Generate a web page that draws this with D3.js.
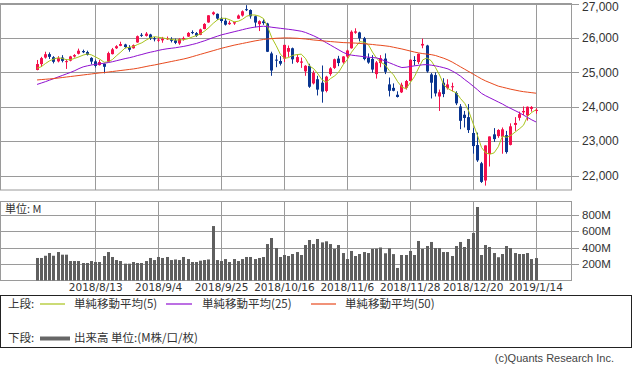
<!DOCTYPE html>
<html><head><meta charset="utf-8">
<script src="https://cdn.jsdelivr.net/npm/d3@7"></script>
<style>body{margin:0;background:#fff}svg{display:block}</style>
</head><body><svg id="c" width="633" height="372"></svg>
<script>
const dates = ["2018/7/24","2018/7/25","2018/7/26","2018/7/27","2018/7/30","2018/7/31",
"2018/8/1","2018/8/2","2018/8/3","2018/8/6","2018/8/7","2018/8/8","2018/8/9","2018/8/10","2018/8/13","2018/8/14","2018/8/15","2018/8/16","2018/8/17","2018/8/20","2018/8/21","2018/8/22","2018/8/23","2018/8/24","2018/8/27","2018/8/28","2018/8/29","2018/8/30","2018/8/31",
"2018/9/4","2018/9/5","2018/9/6","2018/9/7","2018/9/10","2018/9/11","2018/9/12","2018/9/13","2018/9/14","2018/9/17","2018/9/18","2018/9/19","2018/9/20","2018/9/21","2018/9/24","2018/9/25","2018/9/26","2018/9/27","2018/9/28",
"2018/10/1","2018/10/2","2018/10/3","2018/10/4","2018/10/5","2018/10/8","2018/10/9","2018/10/10","2018/10/11","2018/10/12","2018/10/15","2018/10/16","2018/10/17","2018/10/18","2018/10/19","2018/10/22","2018/10/23","2018/10/24","2018/10/25","2018/10/26","2018/10/29","2018/10/30","2018/10/31",
"2018/11/1","2018/11/2","2018/11/5","2018/11/6","2018/11/7","2018/11/8","2018/11/9","2018/11/12","2018/11/13","2018/11/14","2018/11/15","2018/11/16","2018/11/19","2018/11/20","2018/11/21","2018/11/23","2018/11/26","2018/11/27","2018/11/28","2018/11/29","2018/11/30",
"2018/12/3","2018/12/4","2018/12/6","2018/12/7","2018/12/10","2018/12/11","2018/12/12","2018/12/13","2018/12/14","2018/12/17","2018/12/18","2018/12/19","2018/12/20","2018/12/21","2018/12/24","2018/12/26","2018/12/27","2018/12/28","2018/12/31",
"2019/1/2","2019/1/3","2019/1/4","2019/1/7","2019/1/8","2019/1/9","2019/1/10","2019/1/11","2019/1/14"];

const opens = [25070,25240,25430,25530,25440,25320,25430,25300,25340,25460,25540,25620,25590,25420,25320,25210,25250,25310,25530,25700,25770,25810,25730,25700,25870,26090,26060,26100,25990,
25920,25930,25960,25970,25930,25840,25960,26040,26170,26140,26090,26260,26450,26690,26700,26560,26500,26400,26420,
26560,26650,26835,26810,26630,26400,26480,26420,25550,25370,25330,25400,25600,25700,25300,25280,25030,25190,24680,24800,24700,24460,24950,
25130,25400,25290,25460,25700,26150,26160,25990,25420,25390,24950,25270,25400,24650,24550,24350,24420,24550,24750,25360,25300,
25780,25780,24940,24920,24300,24700,24540,24570,24400,24010,23770,23700,23240,22890,22360,21860,22630,23200,23150,
23130,23177,22894,23474,23680,23840,23750,23940,23880];
const highs = [25360,25450,25600,25580,25470,25470,25500,25380,25480,25530,25690,25660,25630,25440,25370,25360,25260,25600,25710,25790,25890,25830,25790,25810,26070,26140,26170,26120,26030,
26010,26030,26040,26020,25980,25990,26040,26170,26220,26170,26270,26430,26660,26770,26710,26600,26580,26500,26470,
26680,26800,26951,26830,26650,26510,26540,26440,25600,25500,25470,25800,25780,25720,25520,25430,25210,25250,25050,24900,25200,24900,25150,
25400,25480,25470,25660,26220,26280,26180,26030,25550,25500,25330,25500,25550,24850,24680,24450,24700,24780,25380,25470,25550,
25980,25800,24980,25000,24500,24830,24800,24700,24450,24080,23880,24080,23380,23250,22400,22880,23140,23381,23350,
23400,23300,23520,23700,23860,24010,24010,24020,23960];
const lows = [25060,25160,25400,25390,25260,25290,25290,25100,25320,25430,25520,25560,25490,25230,25140,25200,24970,25300,25520,25680,25760,25700,25600,25690,25860,26030,26040,25940,25900,
25880,25860,25940,25870,25820,25800,25920,26030,26110,26030,26080,26250,26440,26660,26520,26440,26360,26380,26380,
26550,26620,26780,26560,26310,26200,26380,25590,24900,25150,25200,25300,25450,25250,25270,25130,24900,24550,24650,24330,24120,24420,24900,
25100,25180,25250,25420,25690,26120,25900,25350,25250,24990,24820,25150,24950,24300,24450,24270,24400,24500,24740,25200,25240,
25700,24990,24242,24300,23880,24280,24500,24450,24050,23350,23400,23240,22640,22400,21790,21712,22267,22980,23100,
22638,22640,22880,23300,23600,23760,23600,23860,23800];
const closes = [25242,25414,25527,25451,25307,25415,25334,25326,25463,25502,25629,25584,25509,25313,25188,25300,25162,25559,25669,25759,25822,25734,25657,25790,26050,26064,26125,25987,25965,
25952,25975,25996,25917,25857,25971,25999,26146,26155,26062,26247,26406,26657,26744,26562,26492,26385,26440,26458,
26651,26774,26828,26627,26447,26487,26431,25599,25053,25340,25251,25798,25707,25379,25444,25317,25191,24583,24985,24500,24443,24875,25116,
25381,25271,25462,25635,26180,26191,25989,25387,25286,25081,25289,25413,25017,24466,24465,24286,24640,24749,25366,25339,25538,
25826,25027,24700,24389,24423,24370,24650,24597,24101,23593,23676,23324,22860,22445,21820,22878,23139,23062,23327,
23346,22686,23433,23531,23787,23879,24002,23996,23910];
const volume = [273,273,300,333,300,345,313,313,236,236,236,212,212,236,224,224,297,345,285,248,236,204,204,224,212,212,236,273,248,
285,273,285,248,255,248,285,260,224,224,240,248,255,660,248,236,260,224,260,
236,260,285,285,260,273,285,442,515,394,285,309,297,321,345,309,430,491,442,503,462,475,442,
382,430,333,260,358,297,321,345,333,382,386,400,330,390,320,152,309,309,358,309,479,
382,418,467,394,394,345,345,297,418,467,406,503,576,891,309,430,406,333,282,
321,418,394,333,321,321,333,260,272];
const ma5 = [25121,25164,25257,25336,25388,25423,25407,25367,25369,25408,25451,25501,25537,25507,25445,25379,25294,25304,25376,25490,25594,25709,25728,25752,25811,25859,25937,26003,26038,
26019,26001,25975,25961,25939,25943,25948,25978,26026,26067,26122,26203,26305,26423,26523,26572,26568,26525,26467,
26485,26542,26630,26668,26665,26633,26564,26318,26003,25782,25535,25408,25430,25495,25516,25529,25408,25183,25104,24953,24778,24715,24821,
24901,25017,25221,25373,25586,25748,25891,25876,25807,25587,25406,25291,25217,25053,24930,24729,24575,24521,24701,24876,25126,
25364,25419,25336,25146,24923,24631,24531,24461,24404,24238,24099,23858,23511,23180,22819,22660,22623,22663,22840,
23150,23112,23171,23265,23357,23463,23726,23839,23915];
const ma25 = [24650,24690,24730,24775,24820,24865,24910,24955,25000,25050,25110,25160,25190,25215,25235,25250,25265,25285,25310,25340,25370,25400,25425,25455,25490,25520,25555,25585,25610,
25640,25665,25685,25700,25715,25735,25755,25780,25810,25840,25880,25920,25965,26010,26050,26090,26120,26150,26180,
26210,26240,26270,26295,26315,26330,26340,26330,26310,26295,26280,26265,26250,26235,26215,26195,26160,26110,26060,26000,25930,25860,25790,
25720,25650,25580,25530,25500,25485,25470,25455,25440,25430,25420,25380,25330,25280,25230,25180,25140,25150,25170,25190,25205,
25220,25225,25210,25190,25165,25135,25100,25040,24970,24890,24790,24700,24600,24500,24390,24320,24260,24200,24140,
24080,24010,23950,23890,23830,23760,23690,23620,23560];
const ma50 = [24780,24790,24800,24810,24820,24835,24850,24865,24880,24895,24910,24925,24940,24955,24970,24985,24995,25010,25025,25040,25055,25070,25085,25100,25120,25145,25170,25195,25215,
25240,25265,25290,25315,25340,25365,25390,25420,25455,25490,25525,25560,25595,25630,25665,25700,25730,25760,25790,
25815,25840,25865,25890,25915,25935,25955,25970,25980,25990,25995,26000,26000,25995,25990,25980,25970,25955,25940,25930,25915,25905,25895,
25885,25875,25865,25860,25855,25850,25840,25830,25820,25810,25795,25785,25770,25755,25730,25705,25680,25650,25620,25590,25565,
25545,25530,25515,25490,25450,25410,25360,25300,25230,25160,25090,25020,24950,24880,24810,24750,24700,24650,24600,
24570,24540,24510,24485,24460,24440,24425,24410,24395];
const tickLabels = ["2018/8/13","2018/9/4","2018/9/25","2018/10/16","2018/11/6","2018/11/28","2018/12/20","2019/1/14"];
const priceTicks = [22000,23000,24000,25000,26000,27000];
const volTicks = [200,400,600,800];
const legendTop = ["単純移動平均(5)","単純移動平均(25)","単純移動平均(50)"];

const svg = d3.select("#c");
const GRID = "#9a9a9a", TXT = "#333";
const FONT = "'Liberation Sans', Arial, sans-serif";
const CJK = "'Noto Sans CJK JP', sans-serif";
const colUp = "#f5104c", colDown = "#0a3590";
const colMA = ["#a8c41c", "#9010d0", "#e84a1e"];

const x = d3.scaleLinear().domain([-8.6, 127.6]).range([0.5, 571.6]);
const yP = d3.scaleLinear().domain([21590, 27000]).range([189.8, 3.5]);
const yV = d3.scaleLinear().domain([0, 1000]).range([280.5, 198]);
const px = v => Math.round(v) + 0.5;
const tickIdx = tickLabels.map(t => dates.indexOf(t));

// ---- top panel
const topG = svg.append("g");
topG.append("rect").attr("x",0.5).attr("y",3.5).attr("width",571).attr("height",186.5)
  .attr("fill","none").attr("stroke",GRID);
priceTicks.forEach(t=>{
  topG.append("line").attr("x1",0.5).attr("x2",579).attr("y1",px(yP(t))).attr("y2",px(yP(t))).attr("stroke",GRID);
  topG.append("text").attr("x",582).attr("y",Math.max(yP(t),6.5)).attr("dy","0.35em").attr("font-family",FONT).attr("font-size",12)
    .attr("fill",TXT).text(d3.format(",")(t));
});
tickIdx.forEach(i=>{
  topG.append("line").attr("x1",px(x(i))).attr("x2",px(x(i))).attr("y1",3.5).attr("y2",190).attr("stroke",GRID);
});
// candles
const cg = topG.append("g");
closes.forEach((c,i)=>{
  const o = opens[i], up = c >= o, col = up ? colUp : colDown;
  const cx = Math.round(x(i));
  cg.append("line").attr("x1",cx+0.5).attr("x2",cx+0.5).attr("y1",yP(highs[i])).attr("y2",yP(lows[i])).attr("stroke",col);
  const y1 = yP(Math.max(o,c)), y2 = yP(Math.min(o,c));
  cg.append("rect").attr("x",cx-1).attr("y",y1).attr("width",3).attr("height",Math.max(1,y2-y1)).attr("fill",col);
});
// MAs
[ma5, ma25, ma50].forEach((arr,k)=>{
  topG.append("path").datum(arr).attr("fill","none").attr("stroke",colMA[k]).attr("stroke-width",1)
    .attr("d", d3.line().x((d,i)=>x(i)+0.5).y(d=>yP(d)));
});

// ---- volume panel
const vol = svg.append("g");
vol.append("rect").attr("x",0.5).attr("y",201.5).attr("width",571).attr("height",79)
  .attr("fill","none").attr("stroke",GRID);
volTicks.forEach(t=>{
  vol.append("line").attr("x1",0.5).attr("x2",579).attr("y1",px(yV(t))).attr("y2",px(yV(t))).attr("stroke",GRID);
  vol.append("text").attr("x",582).attr("y",yV(t)).attr("dy","0.35em").attr("font-family",FONT).attr("font-size",11.5)
    .attr("fill",TXT).text(t+"M");
});
tickIdx.forEach(i=>{
  vol.append("line").attr("x1",px(x(i))).attr("x2",px(x(i))).attr("y1",201.5).attr("y2",280.5).attr("stroke",GRID);
});
vol.selectAll("rect.v").data(volume).enter().append("rect").attr("class","v")
  .attr("x",(d,i)=>Math.round(x(i))-1).attr("width",3)
  .attr("y",d=>yV(d)).attr("height",d=>yV(0)-yV(d)).attr("fill","#5f5f5f");
vol.append("text").attr("x",5).attr("y",209).attr("dy","0.35em").attr("font-family",CJK).attr("font-size",11)
  .attr("fill",TXT).text("単位: M");

// date labels
tickIdx.forEach((i,k)=>{
  svg.append("text").attr("x",x(i)+0.5).attr("y",287).attr("dy","0.35em").attr("text-anchor","middle")
    .attr("font-family","'DejaVu Sans', sans-serif").attr("font-size",10.5).attr("fill",TXT).text(tickLabels[k]);
});

// legend
const lg = svg.append("g");
lg.append("rect").attr("x",0.5).attr("y",295.5).attr("width",631).attr("height",52).attr("fill","none").attr("stroke","#222");
lg.append("text").attr("x",8).attr("y",303.5).attr("dy","0.35em").attr("font-family",CJK).attr("font-size",11.5).attr("fill",TXT).text("上段:");
const lx = [[40,65,74],[166,192,202],[311,336,345]];
legendTop.forEach((t,k)=>{
  lg.append("line").attr("x1",lx[k][0]).attr("x2",lx[k][1]).attr("y1",304).attr("y2",304).attr("stroke",colMA[k]).attr("stroke-width",1.2);
  lg.append("text").attr("x",lx[k][2]).attr("y",303.5).attr("dy","0.35em").attr("font-family",CJK).attr("font-size",11.5).attr("fill",TXT).text(t);
});
lg.append("text").attr("x",8).attr("y",338).attr("dy","0.35em").attr("font-family",CJK).attr("font-size",11.5).attr("fill",TXT).text("下段:");
lg.append("line").attr("x1",40).attr("x2",70).attr("y1",338.5).attr("y2",338.5).attr("stroke","#666").attr("stroke-width",4);
lg.append("text").attr("x",74).attr("y",338).attr("dy","0.35em").attr("font-family",CJK).attr("font-size",11.5).attr("fill",TXT).text("出来高 単位:(M株/口/枚)");

svg.append("text").attr("x",614).attr("y",358).attr("dy","0.35em").attr("text-anchor","end")
  .attr("font-family",FONT).attr("font-size",11).attr("fill","#444").text("(c)Quants Research Inc.");
</script></body></html>
